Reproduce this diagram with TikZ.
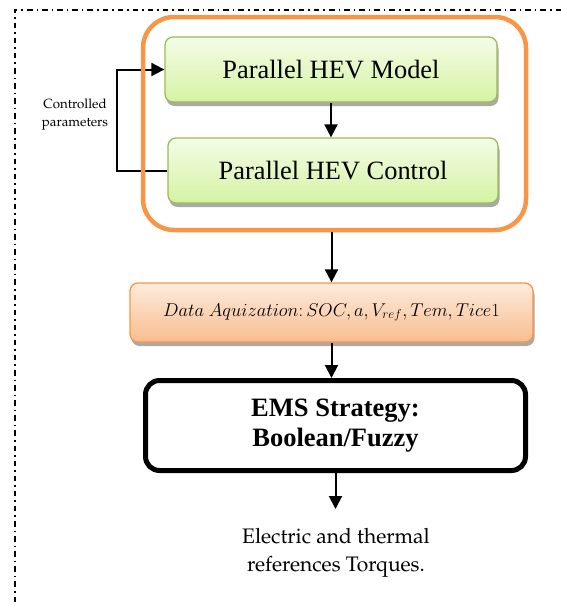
\documentclass[tikz,border=0pt]{standalone}
\usepackage[T1]{fontenc}
\usepackage{fontspec}
\setmainfont{Liberation Serif}
\usetikzlibrary{arrows.meta,shadows}
\newcommand\palfont{\fontencoding{T1}\fontfamily{ppl}\selectfont}

\definecolor{hevorange}{HTML}{F79646}
\definecolor{greenedge}{HTML}{9BBB59}
\definecolor{greentop}{HTML}{F4FCE8}
\definecolor{greenbot}{HTML}{D5F3A2}
\definecolor{datatop}{HTML}{FDEBDD}
\definecolor{databot}{HTML}{F9BD8E}

\tikzset{
  frame/.style={line width=1.6pt, dash pattern=on 5.5pt off 4pt on 1.6pt off 4pt},
  flow/.style={line width=2pt, -{Triangle[length=13pt,width=13pt]}},
  boxshadow/.style={drop shadow={shadow xshift=1.5pt, shadow yshift=-4pt, fill=black!42, opacity=0.8}},
  greenbox/.style={draw=greenedge, line width=1.3pt, rounded corners=8pt,
    top color=greentop, bottom color=greenbot, boxshadow, inner sep=0pt,
    font=\fontsize{26.4}{30}\selectfont},
  groupbox/.style={draw=hevorange, line width=4.5pt, rounded corners=31pt, inner sep=0pt},
  databox/.style={draw=hevorange, line width=1.3pt, rounded corners=8pt,
    top color=datatop, bottom color=databot, boxshadow, inner sep=0pt,
    font=\fontsize{17.28}{21}\selectfont},
  emsbox/.style={draw=black, line width=5pt, rounded corners=14pt, inner sep=0pt,
    align=center, font=\fontsize{26.5}{29.5}\selectfont\bfseries},
  plaintext/.style={align=center, inner sep=0pt}
}

\begin{document}
\begin{tikzpicture}[x=1pt, y=-1pt]
\useasboundingbox (0,0) rectangle (561,606);

% dash-dot frame along the top and left
\coordinate (frameA) at (561,10);
\coordinate (frameB) at (15,10);
\coordinate (frameC) at (15,606);
\draw[frame] (frameA) -- (frameB) -- (frameC);

% vehicle model and its controller
\node[greenbox, minimum width=332pt, minimum height=65pt] (model) at (331,69.5) {Parallel HEV Model};
\node[greenbox, minimum width=330pt, minimum height=65pt] (control) at (333,170.5) {Parallel HEV Control};

\draw[flow] (model.south) -- (control.north -| model.south);
\draw[flow] (control.west) -- ++(-50,0) |- (model.west);

\node[plaintext, font=\palfont\fontsize{13.3}{17.5}\selectfont] (ctrlabel) at (75,114.5) {Controlled\\parameters};

% orange frame around the model/control pair
\node[groupbox, minimum width=383pt, minimum height=213pt] (group) at (334.5,123.5) {};

% data acquisition
\node[databox, minimum width=403pt, minimum height=59pt] (data) at (331.5,312.5)
  {\scalebox{1.07}{$Data\ Aquization\colon SOC, a, V_{ref}, Tem, Tice1$}};

% energy management strategy
\node[emsbox, minimum width=380pt, minimum height=90pt] (ems) at (335.5,425.5)
  {EMS Strategy:\\Boolean/Fuzzy};

% output
\node[plaintext, font=\palfont\fontsize{21}{28}\selectfont] (out) at (336,553)
  {Electric and thermal\\references Torques.};

\draw[flow] (data.north |- group.south) -- (data.north);
\draw[flow] (data.south) -- (ems.north -| data.south);
\draw[flow] (ems.south) -- ++(0,36) coordinate (outtip);
\end{tikzpicture}
\end{document}
